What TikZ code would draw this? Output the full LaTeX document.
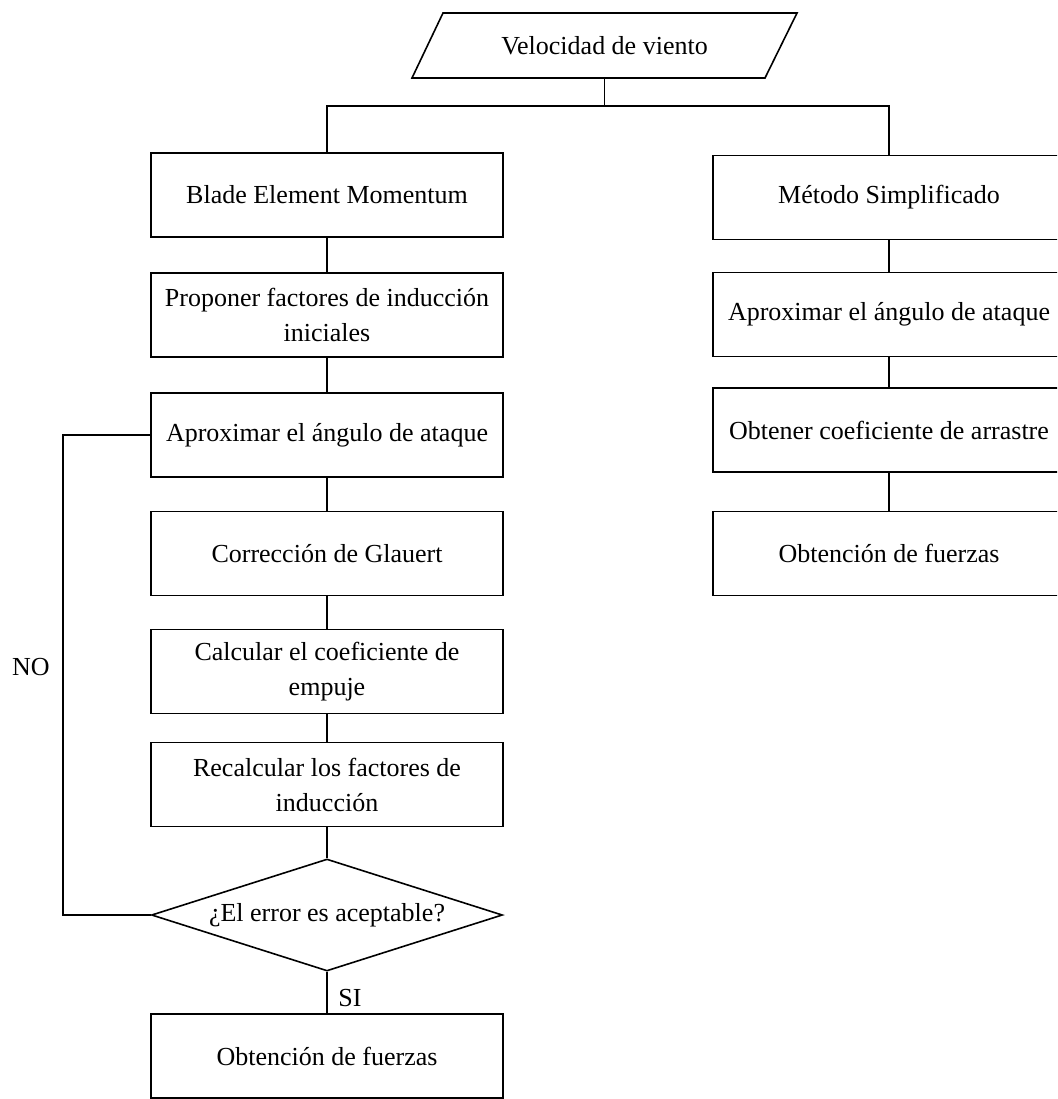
\documentclass[tikz,border=0pt]{standalone}
\usepackage{fontspec}
\setmainfont{Liberation Serif}
\usetikzlibrary{shapes.geometric,calc}
\begin{document}
\begin{tikzpicture}[x=1pt,y=-1pt,
  every node/.style={font=\fontsize{26}{35}\selectfont},
  box/.style={draw, line width=1.6pt, minimum width=352pt, minimum height=84pt, align=center, inner sep=2pt},
  dec/.style={draw, diamond, aspect=3.13, line width=1.6pt, minimum width=351pt, minimum height=112pt, inner sep=0pt},
  link/.style={line width=1.6pt},
  lbl/.style={inner sep=0pt}]
\clip (0,0) rectangle (1057,1099);
\fill[white] (0,0) rectangle (1057,1099);
% input parallelogram
\node[inner sep=0pt, minimum width=330pt, minimum height=65pt] (v) at (604.5,45.5) {Velocidad de viento};
\draw[link, line join=miter] (412,78) -- (443,13) -- (797,13) -- (765,78) -- cycle;
% left column
\node[box] (b1) at (327,195) {Blade Element Momentum};
\node[box] (b2) at (327,315) {Proponer factores de inducción\\iniciales};
\node[box] (b3) at (327,435) {Aproximar el ángulo de ataque};
\node[box] (b4) at (327,553.5) {Corrección de Glauert};
\node[box] (b5) at (327,671.5) {Calcular el coeficiente de\\empuje};
\node[box] (b6) at (327,784.5) {Recalcular los factores de\\inducción};
\node[dec] (d) at (327,915) {¿El error es aceptable?};
\node[box] (b7) at (327,1056) {Obtención de fuerzas};
% right column
\node[box] (m1) at (889,197.5) {Método Simplificado};
\node[box] (m2) at (889,314.5) {Aproximar el ángulo de ataque};
\node[box] (m3) at (889,430) {Obtener coeficiente de arrastre};
\node[box] (m4) at (889,553.5) {Obtención de fuerzas};
% connectors
\coordinate (split) at (604.5,106);
\draw[link] (v.south) -- (split);
\draw[link] (split) -| (b1.north);
\draw[link] (split) -| (m1.north);
\draw[link] (b1) -- (b2);
\draw[link] (b2) -- (b3);
\draw[link] (b3) -- (b4);
\draw[link] (b4) -- (b5);
\draw[link] (b5) -- (b6);
\draw[link] (b6) -- (d);
\draw[link] (d) -- (b7);
\draw[link] (m1) -- (m2);
\draw[link] (m2) -- (m3);
\draw[link] (m3) -- (m4);
\coordinate (loop) at (63,915);
\draw[link] (d.west) -- (loop) |- (b3.west);
\node[lbl] (no) at (31,667) {NO};
\node[lbl] (si) at (350,998) {SI};
\end{tikzpicture}
\end{document}
